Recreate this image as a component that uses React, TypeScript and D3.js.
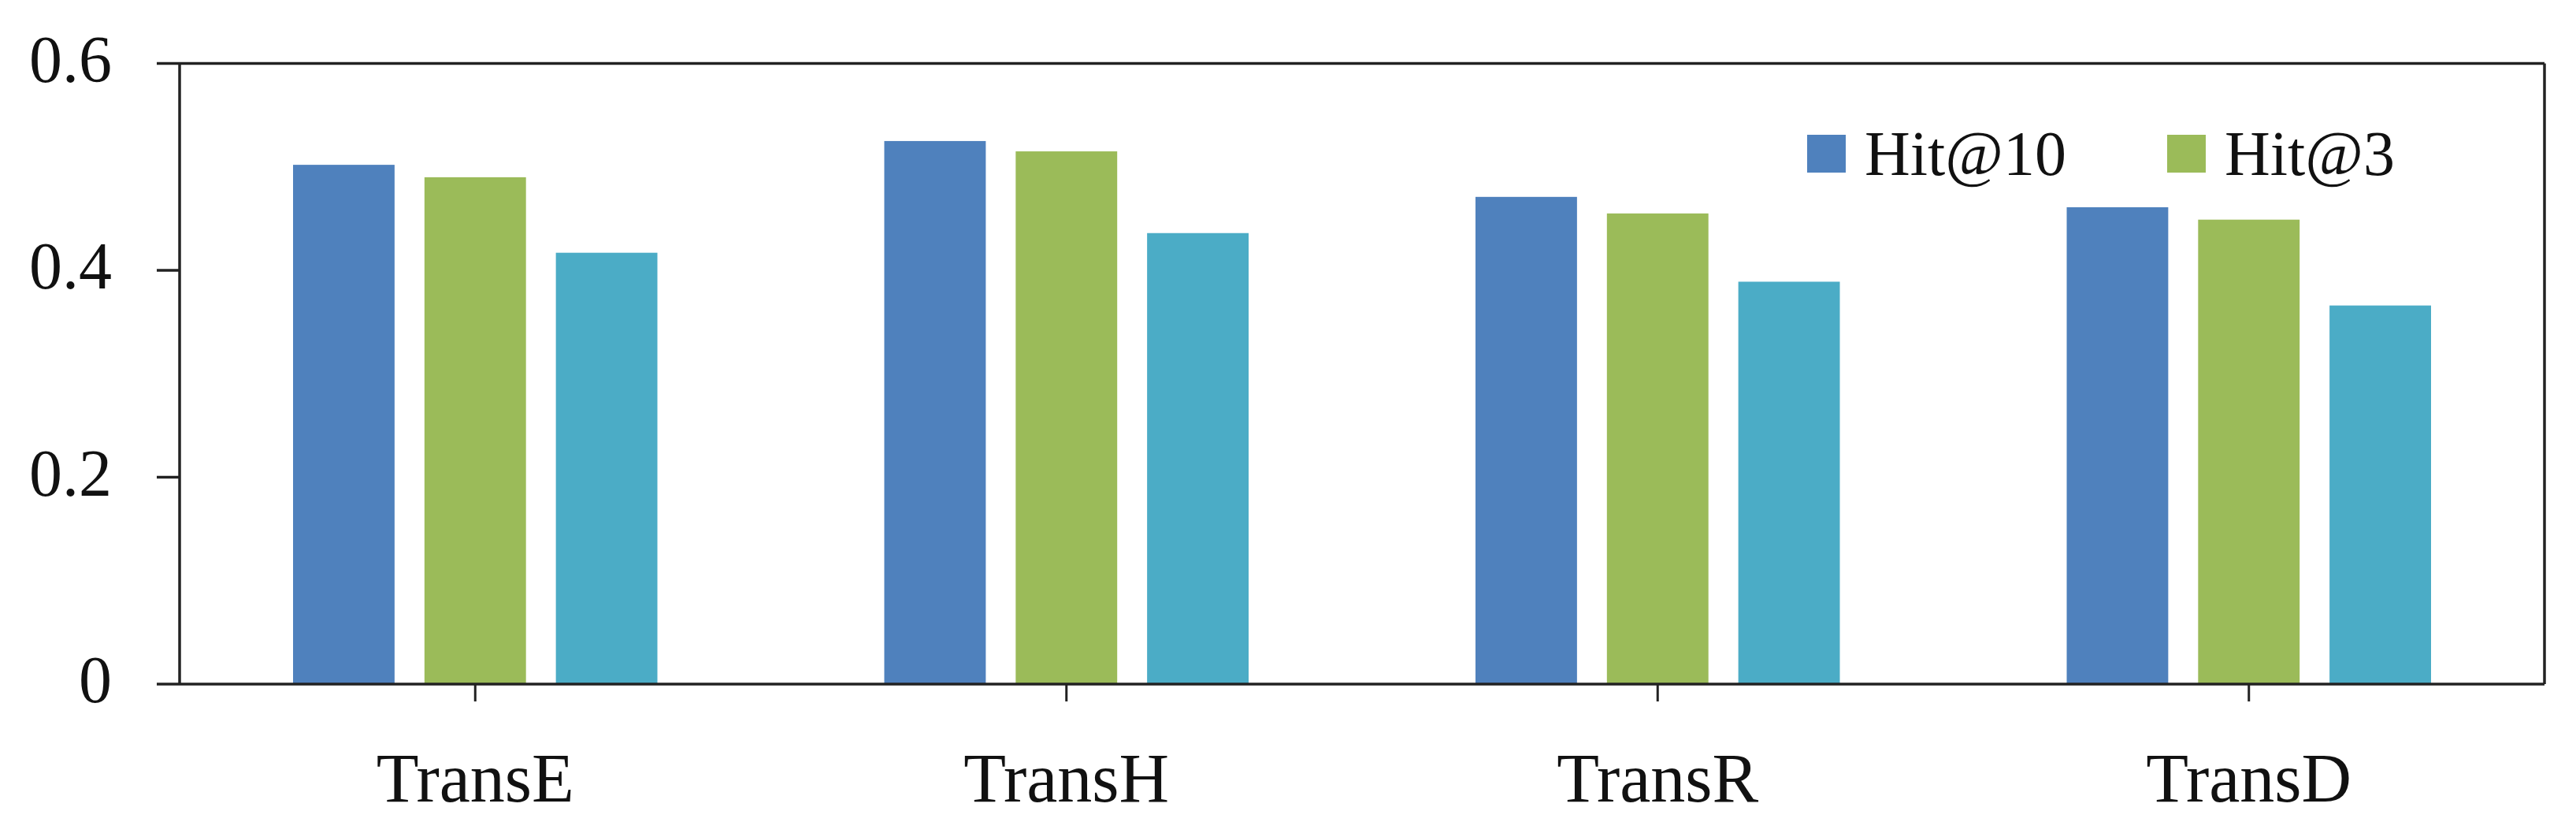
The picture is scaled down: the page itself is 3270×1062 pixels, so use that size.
import React from "react";
import * as d3 from "d3";

const categories = ["TransE", "TransH", "TransR", "TransD"];
const seriesNames = ["Hit@10", "Hit@3", "Hit@1"];
const hit10 = [0.502, 0.525, 0.471, 0.461];
const hit3 = [0.490, 0.515, 0.455, 0.449];
const hit1 = [0.417, 0.436, 0.389, 0.366];
const seriesValues = [hit10, hit3, hit1];
const seriesColors = ["#4F81BD", "#9BBB59", "#4BACC6"];
const legendNames = ["Hit@10", "Hit@3"];
const yTicks = [0, 0.2, 0.4, 0.6];

const W = 3270;
const H = 1062;
const left = 228;
const right = 3230;
const top = 80.5;
const bottom = 868;
const FONT = "'Liberation Serif', 'Times New Roman', serif";

export default function App() {
  const x0 = d3.scaleBand<string>().domain(categories).range([left, right]).padding(0);
  const bw = x0.bandwidth();
  const x1 = d3
    .scaleBand<string>()
    .domain(seriesNames)
    .range([144, bw - 144])
    .paddingInner(0.2275)
    .paddingOuter(0);
  const y = d3.scaleLinear().domain([0, 0.6]).range([bottom, top]);
  const axisColor = "#222";
  const sw = 3.5;

  const legendX = [2294, 2751];

  return (
    <svg
      width={W}
      height={H}
      style={{ position: "absolute", left: 0, top: 0, background: "#fff" }}
    >
      <rect x={0} y={0} width={W} height={H} fill="#fff" />
      {categories.map((c, ci) =>
        seriesNames.map((s, si) => {
          const v = seriesValues[si][ci];
          return (
            <rect
              key={c + s}
              x={(x0(c) as number) + (x1(s) as number)}
              y={y(v)}
              width={x1.bandwidth()}
              height={y(0) - y(v)}
              fill={seriesColors[si]}
            />
          );
        })
      )}
      {/* frame */}
      <line x1={left} x2={left} y1={top} y2={bottom} stroke={axisColor} strokeWidth={sw} />
      <line x1={right} x2={right} y1={top} y2={bottom} stroke={axisColor} strokeWidth={sw} />
      <line x1={left} x2={right} y1={top} y2={top} stroke={axisColor} strokeWidth={sw} />
      <line x1={left} x2={right} y1={bottom} y2={bottom} stroke={axisColor} strokeWidth={sw} />
      {/* y ticks */}
      {yTicks.map((t) => (
        <g key={t}>
          <line x1={199} x2={left} y1={y(t)} y2={y(t)} stroke={axisColor} strokeWidth={sw} />
          <text
            x={142}
            y={y(t) + 23}
            textAnchor="end"
            fontFamily={FONT}
            fontSize={84}
            fill="#111"
          >
            {t === 0 ? "0" : d3.format(".1f")(t)}
          </text>
        </g>
      ))}
      {/* x ticks */}
      {categories.map((c) => {
        const cx = (x0(c) as number) + bw / 2;
        return (
          <g key={c}>
            <line x1={cx} x2={cx} y1={bottom} y2={bottom + 22} stroke={axisColor} strokeWidth={3} />
            <text x={cx} y={1017} textAnchor="middle" fontFamily={FONT} fontSize={88} fill="#111">
              {c}
            </text>
          </g>
        );
      })}
      {/* legend */}
      {legendNames.map((n, i) => (
        <g key={n}>
          <rect x={legendX[i]} y={171} width={49} height={48} fill={seriesColors[i]} />
          <text x={legendX[i] + 73} y={222} fontFamily={FONT} fontSize={80} fill="#111">
            {n}
          </text>
        </g>
      ))}
    </svg>
  );
}
